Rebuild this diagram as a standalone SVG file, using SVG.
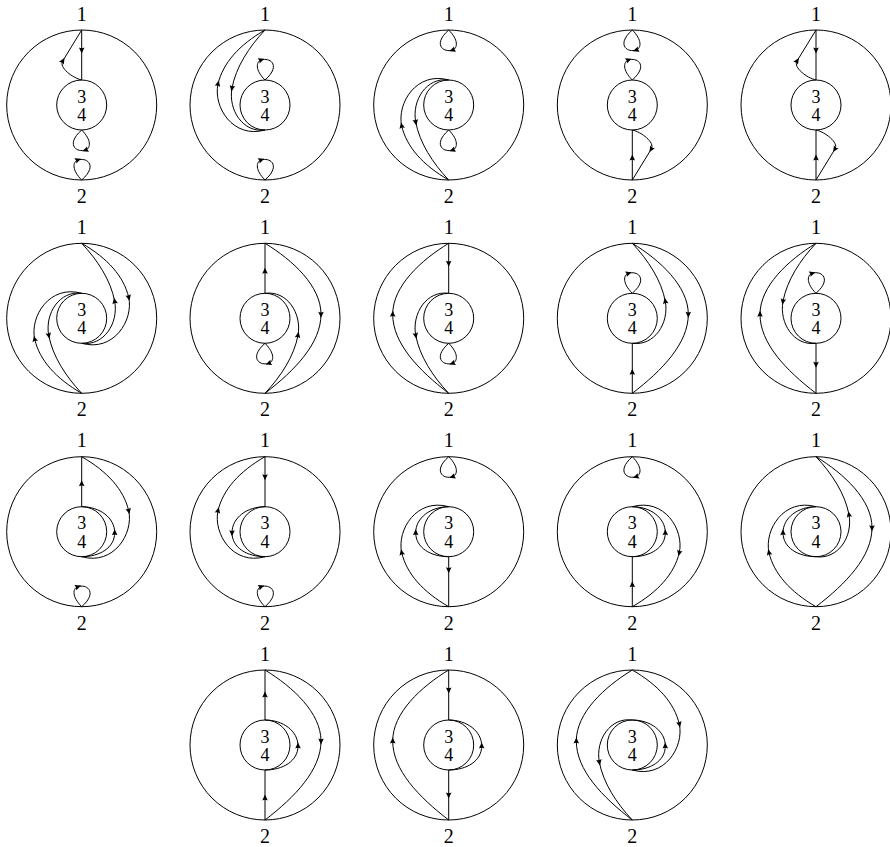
<svg xmlns="http://www.w3.org/2000/svg" width="890" height="847" viewBox="0 0 890 847">
<style>
.e path,.e use{fill:none;stroke:#000;stroke-width:1}
.f{marker-mid:url(#af)}
.r{marker-mid:url(#ar)}
.lb{font-family:"Liberation Serif","DejaVu Serif",serif;font-size:20px;text-anchor:middle;fill:#000}
.in{font-size:18px}
</style>
<defs>
<marker id="af" markerUnits="userSpaceOnUse" orient="auto" overflow="visible" markerWidth="10" markerHeight="10"><path d="M3.5,0 L-2.5,-2.8 Q-1,0 -2.5,2.8Z" fill="#000" stroke="none"/></marker>
<marker id="ar" markerUnits="userSpaceOnUse" orient="auto" overflow="visible" markerWidth="10" markerHeight="10"><path d="M-3.5,0 L2.5,-2.8 Q1,0 2.5,2.8Z" fill="#000" stroke="none"/></marker>
<path id="K" d="M0,-25 C-9,-27 -23,-37.5 -19,-44 L0,-75"/>
<path id="LP" d="M0,0 C-10,-10 -9,-18 -4,-20 C6,-23 16,-14 0,0"/>
<path id="S4" d="M0,75 C-26,60 -42,42 -47,21 C-52,-2 -32,-34 0,-25"/>
<path id="S5" d="M0,75 C-16,58 -29,38 -33,17 C-37,-5 -22,-28 0,-25"/>
<path id="S6" d="M0,-75 C28,-58 56,-32 56,-4 C56,25 30,52 0,75"/>
<path id="S7" d="M0,25 C18,25 33,16 33,1 C33,-14 18,-25 0,-25"/>
<g id="rings"><circle r="75" fill="none" stroke="#000" stroke-width="1"/><circle r="25" fill="none" stroke="#000" stroke-width="1"/></g>
</defs>

<g id="panel1" transform="translate(81.7,105)">
<use href="#rings"/><g class="lb"><text y="-84.3">1</text><text y="98">2</text><text class="in" y="-2.5">3</text><text class="in" y="16">4</text></g>
<g class="e"><path class="f" d="M0,-75 L0,-55 L0,-25"/><use href="#K" class="f"/><use href="#LP" class="f" transform="translate(0,25) rotate(180)"/><use href="#LP" class="f" transform="translate(0,75)"/></g>
</g>
<g id="panel2" transform="translate(265,105)">
<use href="#rings"/><g class="lb"><text y="-84.3">1</text><text y="98">2</text><text class="in" y="-2.5">3</text><text class="in" y="16">4</text></g>
<g class="e"><use href="#LP" class="f" transform="translate(0,-25)"/><use href="#LP" class="f" transform="translate(0,75)"/><use href="#S4" class="r" transform="scale(1,-1)"/><use href="#S5" class="f" transform="scale(1,-1)"/></g>
</g>
<g id="panel3" transform="translate(448.7,105)">
<use href="#rings"/><g class="lb"><text y="-84.3">1</text><text y="98">2</text><text class="in" y="-2.5">3</text><text class="in" y="16">4</text></g>
<g class="e"><use href="#LP" class="f" transform="translate(0,-75) rotate(180)"/><use href="#LP" class="f" transform="translate(0,25) rotate(180)"/><use href="#S4" class="f"/><use href="#S5" class="r"/></g>
</g>
<g id="panel4" transform="translate(632.3,105)">
<use href="#rings"/><g class="lb"><text y="-84.3">1</text><text y="98">2</text><text class="in" y="-2.5">3</text><text class="in" y="16">4</text></g>
<g class="e"><use href="#LP" class="f" transform="translate(0,-75) rotate(180)"/><use href="#LP" class="f" transform="translate(0,-25)"/><path class="f" d="M0,75 L0,53 L0,25"/><use href="#K" class="f" transform="rotate(180)"/></g>
</g>
<g id="panel5" transform="translate(816,105)">
<use href="#rings"/><g class="lb"><text y="-84.3">1</text><text y="98">2</text><text class="in" y="-2.5">3</text><text class="in" y="16">4</text></g>
<g class="e"><path class="f" d="M0,-75 L0,-55 L0,-25"/><use href="#K" class="f"/><path class="f" d="M0,75 L0,53 L0,25"/><use href="#K" class="f" transform="rotate(180)"/></g>
</g>

<g id="panel6" transform="translate(81.7,318.3)">
<use href="#rings"/><g class="lb"><text y="-84.3">1</text><text y="98">2</text><text class="in" y="-2.5">3</text><text class="in" y="16">4</text></g>
<g class="e"><use href="#S4" class="f"/><use href="#S5" class="r"/><use href="#S4" class="f" transform="rotate(180)"/><use href="#S5" class="r" transform="rotate(180)"/></g>
</g>
<g id="panel7" transform="translate(265,318.3)">
<use href="#rings"/><g class="lb"><text y="-84.3">1</text><text y="98">2</text><text class="in" y="-2.5">3</text><text class="in" y="16">4</text></g>
<g class="e"><path class="f" d="M0,-25 L0,-47 L0,-75"/><use href="#LP" class="f" transform="translate(0,25) rotate(180)"/><use href="#S6" class="f"/><use href="#S5" class="f" transform="scale(-1,1)"/></g>
</g>
<g id="panel8" transform="translate(448.7,318.3)">
<use href="#rings"/><g class="lb"><text y="-84.3">1</text><text y="98">2</text><text class="in" y="-2.5">3</text><text class="in" y="16">4</text></g>
<g class="e"><path class="f" d="M0,-75 L0,-55 L0,-25"/><use href="#LP" class="f" transform="translate(0,25) rotate(180)"/><use href="#S6" class="r" transform="scale(-1,1)"/><use href="#S5" class="r"/></g>
</g>
<g id="panel9" transform="translate(632.3,318.3)">
<use href="#rings"/><g class="lb"><text y="-84.3">1</text><text y="98">2</text><text class="in" y="-2.5">3</text><text class="in" y="16">4</text></g>
<g class="e"><use href="#LP" class="f" transform="translate(0,-25)"/><path class="f" d="M0,75 L0,54 L0,25"/><use href="#S6" class="f"/><use href="#S5" class="r" transform="rotate(180)"/></g>
</g>
<g id="panel10" transform="translate(816,318.3)">
<use href="#rings"/><g class="lb"><text y="-84.3">1</text><text y="98">2</text><text class="in" y="-2.5">3</text><text class="in" y="16">4</text></g>
<g class="e"><use href="#LP" class="f" transform="translate(0,-25)"/><path class="f" d="M0,25 L0,46 L0,75"/><use href="#S6" class="r" transform="scale(-1,1)"/><use href="#S5" class="f" transform="scale(1,-1)"/></g>
</g>

<g id="panel11" transform="translate(81.7,531.7)">
<use href="#rings"/><g class="lb"><text y="-84.3">1</text><text y="98">2</text><text class="in" y="-2.5">3</text><text class="in" y="16">4</text></g>
<g class="e"><path class="f" d="M0,-25 L0,-48 L0,-75"/><use href="#LP" class="f" transform="translate(0,75)"/><use href="#S4" class="f" transform="rotate(180)"/><use href="#S7" class="f"/></g>
</g>
<g id="panel12" transform="translate(265,531.7)">
<use href="#rings"/><g class="lb"><text y="-84.3">1</text><text y="98">2</text><text class="in" y="-2.5">3</text><text class="in" y="16">4</text></g>
<g class="e"><path class="f" d="M0,-75 L0,-55 L0,-25"/><use href="#LP" class="f" transform="translate(0,75)"/><use href="#S4" class="r" transform="scale(1,-1)"/><use href="#S7" class="r" transform="scale(-1,1)"/></g>
</g>
<g id="panel13" transform="translate(448.7,531.7)">
<use href="#rings"/><g class="lb"><text y="-84.3">1</text><text y="98">2</text><text class="in" y="-2.5">3</text><text class="in" y="16">4</text></g>
<g class="e"><use href="#LP" class="f" transform="translate(0,-75) rotate(180)"/><use href="#S4" class="f"/><use href="#S7" class="f" transform="scale(-1,1)"/><path class="f" d="M0,25 L0,38 L0,75"/></g>
</g>
<g id="panel14" transform="translate(632.3,531.7)">
<use href="#rings"/><g class="lb"><text y="-84.3">1</text><text y="98">2</text><text class="in" y="-2.5">3</text><text class="in" y="16">4</text></g>
<g class="e"><use href="#LP" class="f" transform="translate(0,-75) rotate(180)"/><path class="f" d="M0,75 L0,53 L0,25"/><use href="#S4" class="r" transform="scale(-1,1)"/><use href="#S7" class="f"/></g>
</g>
<g id="panel15" transform="translate(816,531.7)">
<use href="#rings"/><g class="lb"><text y="-84.3">1</text><text y="98">2</text><text class="in" y="-2.5">3</text><text class="in" y="16">4</text></g>
<g class="e"><use href="#S6" class="f"/><use href="#S5" class="r" transform="rotate(180)"/><use href="#S4" class="f"/><use href="#S7" class="f" transform="scale(-1,1)"/></g>
</g>

<g id="panel16" transform="translate(265,745)">
<use href="#rings"/><g class="lb"><text y="-84.3">1</text><text y="98">2</text><text class="in" y="-2.5">3</text><text class="in" y="16">4</text></g>
<g class="e"><path class="f" d="M0,-25 L0,-50 L0,-75"/><path class="f" d="M0,75 L0,53 L0,25"/><use href="#S6" class="f"/><use href="#S7" class="f"/></g>
</g>
<g id="panel17" transform="translate(448.7,745)">
<use href="#rings"/><g class="lb"><text y="-84.3">1</text><text y="98">2</text><text class="in" y="-2.5">3</text><text class="in" y="16">4</text></g>
<g class="e"><path class="f" d="M0,-75 L0,-55 L0,-25"/><path class="f" d="M0,25 L0,50 L0,75"/><use href="#S6" class="r" transform="scale(-1,1)"/><use href="#S7" class="f"/></g>
</g>
<g id="panel18" transform="translate(632.3,745)">
<use href="#rings"/><g class="lb"><text y="-84.3">1</text><text y="98">2</text><text class="in" y="-2.5">3</text><text class="in" y="16">4</text></g>
<g class="e"><use href="#S6" class="r" transform="scale(-1,1)"/><use href="#S4" class="f" transform="rotate(180)"/><use href="#S5" class="r"/><use href="#S7" class="f"/></g>
</g>
</svg>
